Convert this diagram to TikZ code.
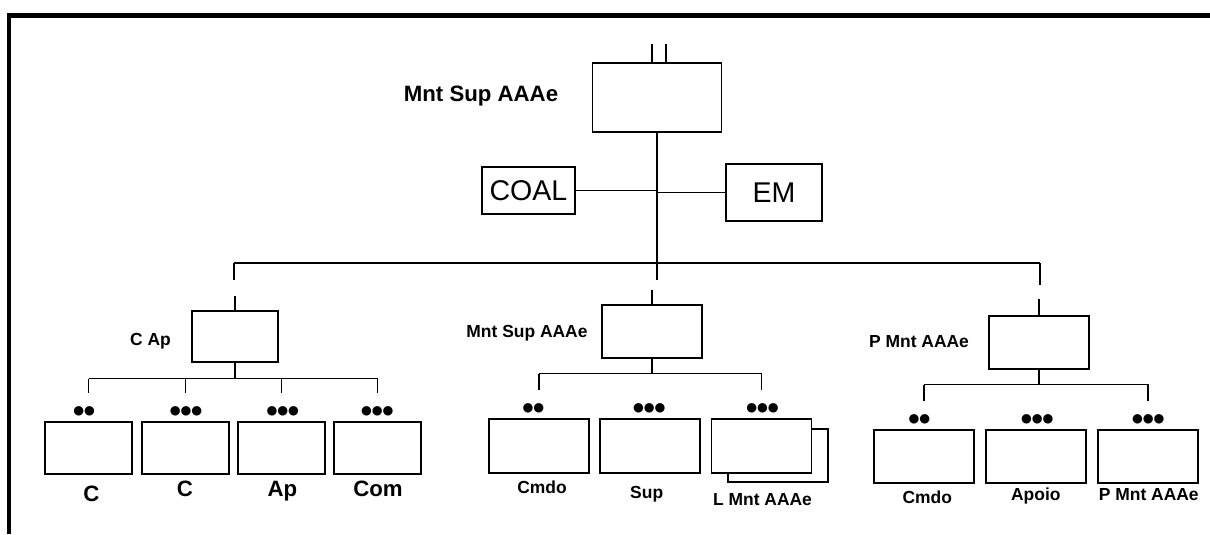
\documentclass[tikz,border=0pt]{standalone}
\usepackage{fontspec}
\setmainfont{Liberation Sans}
\newfontfamily\dotfont{DejaVu Sans}
\begin{document}
\begin{tikzpicture}[x=0.025cm, y=-0.025cm, line width=0.85pt,
		unit/.style args={#1/#2}{draw, inner sep=0pt, minimum width=#1*0.025cm, minimum height=#2*0.025cm},
		lab/.style={anchor=base, font=\bfseries\fontsize{12.4}{14}\selectfont},
		biglab/.style={anchor=base, font=\bfseries\fontsize{15.8}{18}\selectfont},
		plain/.style={font=\fontsize{20.3}{24}\selectfont},
		dots/.style={inner sep=0pt, font=\dotfont\fontsize{8.8}{10}\selectfont}]
		\useasboundingbox (0,0) rectangle (1210,534);
		\draw[line width=3pt] (8.8,534) -- (8.8,15.5) -- (1212,15.5);
		
		\node[unit=129/69] (hq) at (657,97.5) {};
		\node[biglab] at (481,101.5) {Mnt Sup AAAe};
		\coordinate (inA) at (652,44);
		\coordinate (inB) at (666,44);
		\draw (inA) -- (inA |- hq.north);
		\draw (inB) -- (inB |- hq.north);
		
		\node[unit=93/47, plain] (coal) at (528.5,190.5) {COAL};
		\node[unit=96/57, plain] (em) at (774,192.5) {EM};
		\coordinate (busL) at (234,263);
		\coordinate (busR) at (1040,263);
		\draw (hq.south) -- (hq.south |- busL);
		\draw (coal.east) -- (coal.east -| hq.south);
		\draw (em.west) -- (em.west -| hq.south);
		\draw (busL) -- (busR);
		\draw (busL) -- ++(0,17);
		\draw (hq.south |- busL) -- ++(0,17);
		\draw (busR) -- ++(0,22);
		
		\node[unit=86/51] (cap) at (235,336.5) {};
		\node[unit=100/53] (msa) at (652,331.5) {};
		\node[unit=100/53] (pma) at (1039,342.5) {};
		\node[lab] at (150.5,345) {C Ap};
		\node[lab] at (527,337) {Mnt Sup AAAe};
		\node[lab] at (919,347.3) {P Mnt AAAe};
		\draw (cap.north) -- ++(0,-14);
		\draw (msa.north) -- ++(0,-14);
		\draw (pma.north) -- ++(0,-16);
		
		\foreach \x/\name in {88.5/ca, 185.5/cb, 281.5/ap, 377.5/com} {
			\node[unit=87/52] (\name) at (\x,448) {};
		}
		\node[unit=100/53] (lmb) at (778,455.5) {};
		\foreach \x/\name in {539/cmdo, 650/sup, 761.5/lma} {
			\node[unit=100/54, fill=white] (\name) at (\x,446) {};
		}
		\foreach \x/\name in {924/pcmdo, 1036/apoio, 1148/pmnt} {
			\node[unit=100/53] (\name) at (\x,456.5) {};
		}
		
		\draw (cap.south) -- ++(0,16) coordinate (capbus);
		\draw (ca.north |- capbus) -- (com.north |- capbus);
		\foreach \name in {ca, cb, ap, com} {
			\draw (\name.north |- capbus) -- ++(0,14);
		}
		\draw (msa.south) -- ++(0,15) coordinate (msabus);
		\draw (cmdo.north |- msabus) -- ++(0,16);
		\draw (cmdo.north |- msabus) -- (lma.north |- msabus) -- ++(0,16);
		\draw (pma.south) -- ++(0,15) coordinate (pmabus);
		\draw (pcmdo.north |- pmabus) -- ++(0,16);
		\draw (pcmdo.north |- pmabus) -- (pmnt.north |- pmabus) -- ++(0,16);
		
		\node[dots] at (84.2,411.7) {●●};
		\node[dots] at (186,411.7) {●●●};
		\node[dots] at (282.7,411.7) {●●●};
		\node[dots] at (377.3,411.7) {●●●};
		\node[dots] at (533.3,408) {●●};
		\node[dots] at (649.2,408) {●●●};
		\node[dots] at (762.5,408) {●●●};
		\node[dots] at (919.3,419) {●●};
		\node[dots] at (1037.2,419) {●●●};
		\node[dots] at (1148.3,419) {●●●};
		
		\node[biglab] at (91.3,501.5) {C};
		\node[biglab] at (185,496.7) {C};
		\node[biglab] at (282.5,496.7) {Ap};
		\node[biglab] at (378,496.7) {Com};
		\node[lab] at (542,493) {Cmdo};
		\node[lab] at (646.7,498) {Sup};
		\node[lab] at (762.5,505) {L Mnt AAAe};
		\node[lab] at (927.2,503) {Cmdo};
		\node[lab] at (1035.8,500) {Apoio};
		\node[lab] at (1148.8,500) {P Mnt AAAe};
	\end{tikzpicture}
\end{document}
